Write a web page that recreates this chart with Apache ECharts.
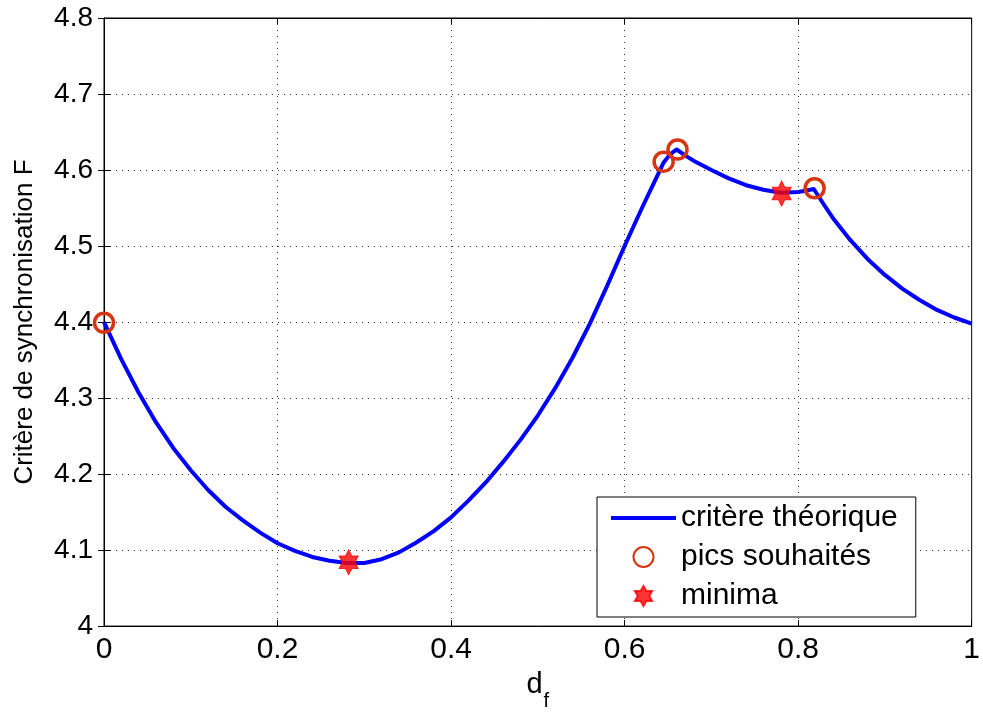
<!DOCTYPE html>
<html>
<head>
<meta charset="utf-8">
<script src="https://cdn.jsdelivr.net/npm/echarts@6/dist/echarts.min.js"></script>
<style>
html,body{margin:0;padding:0;background:#fff;}
#c{width:983px;height:716px;}
</style>
</head>
<body>
<div id="c"></div>
<script>
// ---- data ----
const curveX = [0.00,0.02,0.04,0.06,0.08,0.10,0.12,0.14,0.16,0.18,0.20,0.22,0.24,0.26,0.28,0.30,0.32,0.34,0.36,0.38,0.40,0.42,0.44,0.46,0.48,0.50,0.52,0.54,0.56,0.58,0.60,0.62,0.64,0.645,0.65,0.655,0.66,0.67,0.68,0.69,0.70,0.72,0.74,0.76,0.78,0.80,0.81,0.818,0.83,0.84,0.86,0.88,0.90,0.92,0.94,0.96,0.98,1.00];
const curveY = [4.400,4.351,4.307,4.268,4.234,4.205,4.179,4.157,4.139,4.123,4.109,4.099,4.091,4.086,4.083,4.083,4.088,4.097,4.110,4.125,4.143,4.165,4.189,4.216,4.245,4.277,4.313,4.353,4.398,4.448,4.500,4.550,4.598,4.610,4.617,4.623,4.627,4.619,4.612,4.606,4.600,4.589,4.580,4.574,4.570,4.571,4.573,4.575,4.554,4.537,4.508,4.483,4.462,4.444,4.429,4.416,4.406,4.398];
const peakX = [0.0, 0.645, 0.661, 0.819];
const peakY = [4.399, 4.611, 4.627, 4.576];
const minX = [0.282, 0.781];
const minY = [4.084, 4.569];
const xTicks = [0, 0.2, 0.4, 0.6, 0.8, 1];
const yTicks = [4, 4.1, 4.2, 4.3, 4.4, 4.5, 4.6, 4.7, 4.8];
const seriesNames = ['critère théorique', 'pics souhaités', 'minima'];
const yTitle = 'Critère de synchronisation F';

const hexagram = 'path://M0,-100L28.87,-50L86.6,-50L57.7,0L86.6,50L28.87,50L0,100L-28.87,50L-86.6,50L-57.7,0L-86.6,-50L-28.87,-50Z';

const chart = echarts.init(document.getElementById('c'), null, {renderer: 'canvas'});

const zip = (a, b) => a.map((v, i) => [v, b[i]]);
const gridLine = {show: true, lineStyle: {color: '#333', width: 1, type: [1, 5]}};
const font = 'Liberation Sans';

chart.setOption({
  animation: false,
  backgroundColor: '#fff',
  grid: {left: 104, right: 8, top: 18, bottom: 81, show: true, borderColor: '#000', borderWidth: 1},
  legend: {
    left: 597, top: 497, orient: 'vertical',
    backgroundColor: '#fff', borderColor: '#000', borderWidth: 1,
    padding: [6, 18, 6, 12],
    itemWidth: 65, itemHeight: 20, itemGap: 9,
    textStyle: {fontFamily: font, fontSize: 30, color: '#000', lineHeight: 26},
    data: [
      {name: seriesNames[0], itemStyle: {opacity: 0}, lineStyle: {width: 4, color: '#0000ff'}},
      {name: seriesNames[1]},
      {name: seriesNames[2]}
    ]
  },
  xAxis: [{
    type: 'value', min: xTicks[0], max: xTicks[xTicks.length - 1], interval: 0.2,
    axisLine: {show: true, lineStyle: {color: '#000'}},
    axisTick: {show: true, inside: true, length: 6, lineStyle: {color: '#000'}},
    axisLabel: {fontFamily: font, fontSize: 30, color: '#000', margin: 9},
    splitLine: gridLine,
    name: '{d|d}{f|f}', nameLocation: 'middle', nameGap: 41,
    nameTextStyle: {
      rich: {
        d: {fontFamily: font, fontSize: 29, color: '#000', lineHeight: 30, verticalAlign: 'top'},
        f: {fontFamily: font, fontSize: 20, color: '#000', lineHeight: 18, verticalAlign: 'top', padding: [21, 0, 0, 1]}
      }
    }
  }, {
    type: 'value', position: 'top', min: 0, max: 1, interval: 0.2,
    axisLine: {show: true, lineStyle: {color: '#000'}},
    axisTick: {show: true, inside: true, length: 6, lineStyle: {color: '#000'}},
    axisLabel: {show: false}, splitLine: {show: false}
  }],
  yAxis: [{
    type: 'value', min: yTicks[0], max: yTicks[yTicks.length - 1], interval: 0.1,
    axisLine: {show: true, lineStyle: {color: '#000'}},
    axisTick: {show: true, inside: true, length: 6, lineStyle: {color: '#000'}},
    axisLabel: {fontFamily: font, fontSize: 28, color: '#000', margin: 11,
      formatter: v => (Math.round(v * 10) / 10).toString()},
    splitLine: gridLine,
    name: yTitle, nameLocation: 'middle', nameGap: 66, nameRotate: 90,
    nameTextStyle: {fontFamily: font, fontSize: 26, color: '#000'}
  }, {
    type: 'value', position: 'right', min: 4, max: 4.8, interval: 0.1,
    axisLine: {show: true, lineStyle: {color: '#000'}},
    axisTick: {show: true, inside: true, length: 6, lineStyle: {color: '#000'}},
    axisLabel: {show: false}, splitLine: {show: false}
  }],
  series: [{
    name: seriesNames[0], type: 'line', data: zip(curveX, curveY),
    showSymbol: false, symbol: 'none', smooth: false,
    lineStyle: {color: '#0000ff', width: 4, join: 'round'}, itemStyle: {color: '#0000ff'}, z: 2
  }, {
    name: seriesNames[1], type: 'scatter', data: zip(peakX, peakY),
    symbol: 'circle', symbolSize: 19,
    itemStyle: {color: 'rgba(0,0,0,0)', borderColor: '#d63510', borderWidth: 3.5, opacity: 1},
    z: 4
  }, {
    name: seriesNames[2], type: 'scatter', data: zip(minX, minY),
    symbol: hexagram, symbolSize: [22, 25], symbolKeepAspect: true,
    itemStyle: {color: '#ff0000', borderColor: '#ff0000', borderWidth: 1},
    z: 5
  }]
});
</script>
</body>
</html>
